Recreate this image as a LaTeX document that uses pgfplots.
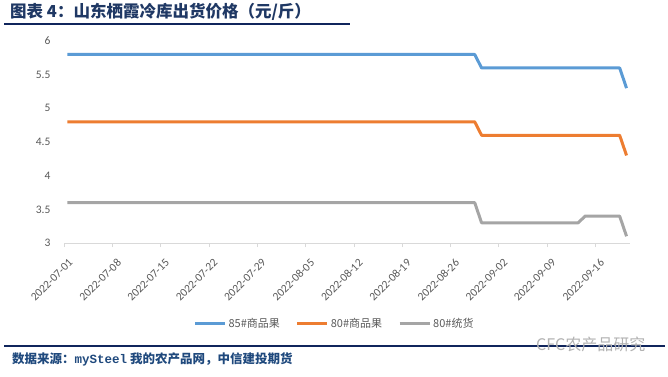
\documentclass[border=0pt]{standalone}
\usepackage{fontspec}
\setmainfont{Carlito}
\newfontfamily\cjk{Noto Sans CJK SC}
\newfontfamily\mono{Liberation Mono}
\usepackage{pgfplots}
\pgfplotsset{compat=1.18}
\definecolor{cblue}{HTML}{5B9BD5}
\definecolor{corange}{HTML}{ED7D31}
\definecolor{cgray}{HTML}{A5A5A5}
\definecolor{titlec}{RGB}{31,56,100}
\definecolor{navy}{RGB}{16,37,92}
\definecolor{srcc}{RGB}{31,73,125}
\definecolor{tickc}{HTML}{595959}
\definecolor{axc}{HTML}{D9D9D9}
\begin{document}
\begin{tikzpicture}
\path[use as bounding box] (0pt,0pt) rectangle (668pt,376pt);
\node[anchor=west, text=titlec, font=\cjk\bfseries\fontsize{16.5}{16.5}\selectfont, inner sep=0pt] at (10pt,364pt) {图表 4：山东栖霞冷库出货价格（元/斤）};
\draw[navy, line width=2pt] (4pt,352pt) -- (350pt,352pt);
\draw[navy, line width=2pt] (4pt,30pt) -- (665pt,30pt);
\node[anchor=west, text=srcc, font=\cjk\bfseries\fontsize{12.5}{12.5}\selectfont, inner sep=0pt] at (12pt,17pt) {数据来源：{\mono\bfseries mySteel} 我的农产品网，中信建投期货};
\node[anchor=west, text=black!30, font=\cjk\fontsize{16}{16}\selectfont, inner sep=0pt] at (536pt,32pt) {CFC农产品研究};
\begin{axis}[
  at={(64pt,133pt)}, anchor=south west,
  scale only axis, width=566pt, height=202pt,
  xmin=0, xmax=82, ymin=3, ymax=6,
  axis x line*=bottom, axis y line*=left,
  x axis line style={draw=axc, line width=0.8pt, -},
  y axis line style={draw=none, -},
  xtick={0,7,14,21,28,35,42,49,56,63,70,77},
  xticklabels={2022-07-01,2022-07-08,2022-07-15,2022-07-22,2022-07-29,2022-08-05,2022-08-12,2022-08-19,2022-08-26,2022-09-02,2022-09-09,2022-09-16},
  ytick={3,3.5,4,4.5,5,5.5,6},
  yticklabels={3,3.5,4,4.5,5,5.5,6},
  tick align=outside, major tick length=4pt,
  xtick style={draw=axc, line width=0.8pt},
  ytick style={draw=none},
  tick label style={text=tickc, font=\fontsize{11.5}{11.5}\selectfont},
  xticklabel style={xshift=4pt, yshift=-11pt, rotate=45, anchor=north east, inner sep=0pt},
  yticklabel style={xshift=-6pt},
  legend style={at={(0.478,-0.40)}, anchor=center, draw=none, fill=none,
    font=\cjk\fontsize{11}{11}\selectfont, text=tickc,
    /tikz/every even column/.append style={column sep=14pt}},
  legend columns=3,
  legend image code/.code={\draw[#1] (0pt,0pt) -- (30pt,0pt);},
]
\addplot[cblue, line width=3pt, line join=round] coordinates {(0.5,5.8) (59.5,5.8) (60.5,5.6) (80.5,5.6) (81.5,5.3)};
\addlegendentry{85\#商品果}
\addplot[corange, line width=3pt, line join=round] coordinates {(0.5,4.8) (59.5,4.8) (60.5,4.6) (80.5,4.6) (81.5,4.3)};
\addlegendentry{80\#商品果}
\addplot[cgray, line width=3pt, line join=round] coordinates {(0.5,3.6) (59.5,3.6) (60.5,3.3) (74.5,3.3) (75.5,3.4) (80.5,3.4) (81.5,3.1)};
\addlegendentry{80\#统货}
\end{axis}
\end{tikzpicture}
\end{document}
